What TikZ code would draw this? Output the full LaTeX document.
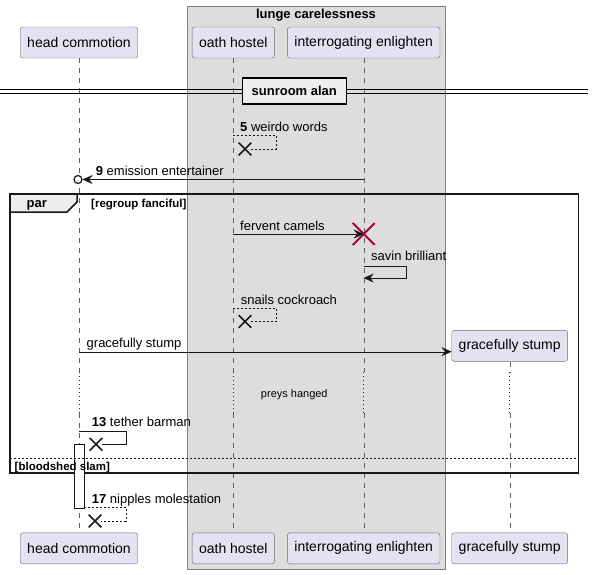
\documentclass[tikz,border=0pt]{standalone}
\usepackage{fontspec}
\setmainfont{Liberation Sans}
\usetikzlibrary{arrows.meta,positioning,shapes.misc}
\definecolor{partfill}{HTML}{E2E2F0}
\definecolor{boxfill}{HTML}{DDDDDD}
\definecolor{framefill}{HTML}{EEEEEE}
\definecolor{linegray}{HTML}{181818}
\definecolor{killred}{HTML}{A80036}
\tikzstyle{participant}=[
	rectangle,
	rounded corners=2.5,
	draw=gray!85!black,
	fill=partfill,
	minimum height=31,
	inner xsep=7,
	font=\fontsize{14}{16}\selectfont]
\tikzstyle{lifeline}=[
	draw=gray!75!black,
	dash pattern=on 5 off 5]
\tikzstyle{delayline}=[
	draw=killred!80!black,
	line width=0.8,
	dash pattern=on 1 off 3]
\tikzstyle{msg}=[
	draw=linegray,
	-{Stealth[length=10,width=9,inset=3.5]}]
\tikzstyle{reply}=[
	draw=linegray,
	dash pattern=on 2 off 2]
\tikzstyle{lbl}=[
	inner sep=0,
	anchor=base west,
	font=\fontsize{13}{15}\selectfont]
\tikzstyle{guard}=[
	inner sep=0,
	anchor=base west,
	font=\fontsize{11.5}{13}\bfseries\selectfont]
\tikzstyle{lost}=[
	cross out,
	draw=linegray,
	line width=1.6,
	minimum size=11,
	inner sep=0]

\begin{document}
\begin{tikzpicture}[x=1pt,y=-1pt]
	\useasboundingbox (0,0) rectangle (594,574);
	% box round the grouped participants
	\node[rectangle,draw=gray,fill=boxfill,minimum width=258,minimum height=563,inner sep=0,anchor=north west] (lunge) at (187,6) {};
	\node[font=\fontsize{13}{15}\bfseries\selectfont,inner sep=0,anchor=base] (lunge title) at (316,18) {lunge carelessness};
	% participants
	\node[participant] (head) at (79,42.5) {head commotion};
	\node[participant] (oath) at (233.3,42.5) {oath hostel};
	\node[participant] (interro) at (363.7,42.5) {interrogating enlighten};
	\node[participant] (stump) at (509.7,345.8) {gracefully stump};
	\node[participant] (headB) at (79,548.3) {head commotion};
	\node[participant] (oathB) at (233.3,548.3) {oath hostel};
	\node[participant] (interroB) at (363.7,548.3) {interrogating enlighten};
	\node[participant] (stumpB) at (509.7,548.3) {gracefully stump};
	% lifelines, dotted during the delay
	\foreach \p in {head,oath,interro}{
		\draw[lifeline] (\p.south) -- (\p.south |- 0,372);
		\draw[delayline] (\p.south |- 0,372) -- (\p.south |- 0,413);
		\draw[lifeline] (\p.south |- 0,413) -- (\p B.north);
	}
	\draw[lifeline] (stump.south) -- (stump.south |- 0,372);
	\draw[delayline] (stump.south |- 0,372) -- (stump.south |- 0,413);
	\draw[lifeline] (stump.south |- 0,413) -- (stumpB.north);
	% divider
	\draw[line width=1.2,draw=black] (0,89.7) -- (588,89.7) (0,93.3) -- (588,93.3);
	\node[rectangle,draw=black,line width=1.5,fill=framefill,minimum width=104,minimum height=26,inner sep=0,font=\fontsize{13}{15}\bfseries\selectfont] (sunroom) at (294.3,91) {sunroom alan};
	% 5
	\coordinate (m5a) at (233.3,135);
	\node[lost] (x5) at (245,149) {};
	\draw[reply] (m5a) -- ++(43,0) |- (x5);
	\node[lbl] (l5) at (240,131) {\textbf{5} weirdo words};
	% 9
	\coordinate (m9a) at (363.7,179.5);
	\node[circle,draw=linegray,line width=1.2,fill=white,minimum size=8,inner sep=0] (c9) at (78,179.5) {};
	\draw[msg] (m9a) -- (c9.east);
	\node[lbl] (l9) at (95.7,175) {\textbf{9} emission entertainer};
	% par frame
	\draw[line width=1.5,draw=linegray] (10,194) rectangle (578.7,473);
	\draw[line width=1.5,draw=linegray,fill=framefill] (10,194) -- (77,194) -- (77,202) -- (67,212) -- (10,212) -- cycle;
	\node[inner sep=0,anchor=base west,font=\fontsize{13}{15}\bfseries\selectfont] (par) at (26.5,207) {par};
	\node[guard] (regroup) at (91,207) {[regroup fanciful]};
	% fervent camels
	\coordinate (mfa) at (233.3,234);
	\node[cross out,draw=killred,line width=2,minimum size=20,inner sep=0] (kill) at (363.7,234) {};
	\draw[msg] (mfa) -- (kill.center);
	\node[lbl] (lf) at (240,230) {fervent camels};
	% savin brilliant
	\coordinate (msa) at (363.7,266);
	\coordinate (msb) at (363.7,278);
	\draw[msg] (msa) -- ++(42,0) |- (msb);
	\node[lbl] (ls) at (371,260) {savin brilliant};
	% snails cockroach
	\coordinate (mna) at (233.3,308);
	\node[lost] (xn) at (245,321.5) {};
	\draw[reply] (mna) -- ++(43,0) |- (xn);
	\node[lbl] (ln) at (240.7,304) {snails cockroach};
	% gracefully stump
	\coordinate (mga) at (79,351.7);
	\draw[msg] (mga) -- (mga -| stump.west);
	\node[lbl] (lg) at (86.5,347) {gracefully stump};
	% delay
	\node[inner sep=0,anchor=base,font=\fontsize{11}{13}\selectfont] (delay) at (294.3,397) {preys hanged};
	% 13
	\coordinate (m13a) at (79,431.3);
	\node[lost] (x13) at (96,444.3) {};
	\draw[draw=linegray] (m13a) -- ++(47,0) |- (x13);
	\node[lbl] (l13) at (91.7,426) {\textbf{13} tether barman};
	% activation
	\node[rectangle,draw=linegray,fill=white,minimum width=10,minimum height=64,inner sep=0,anchor=north west] (act) at (74,444) {};
	% else
	\draw[draw=linegray,dash pattern=on 2 off 2] (10,458.3) -- (578.7,458.3);
	\node[guard] (bloodshed) at (14.5,470) {[bloodshed slam]};
	% 17
	\coordinate (m17a) at (84,507);
	\node[lost] (x17) at (95,521) {};
	\draw[reply] (m17a) -- ++(42,0) |- (x17);
	\node[lbl] (l17) at (91.7,503) {\textbf{17} nipples molestation};
\end{tikzpicture}
\end{document}
